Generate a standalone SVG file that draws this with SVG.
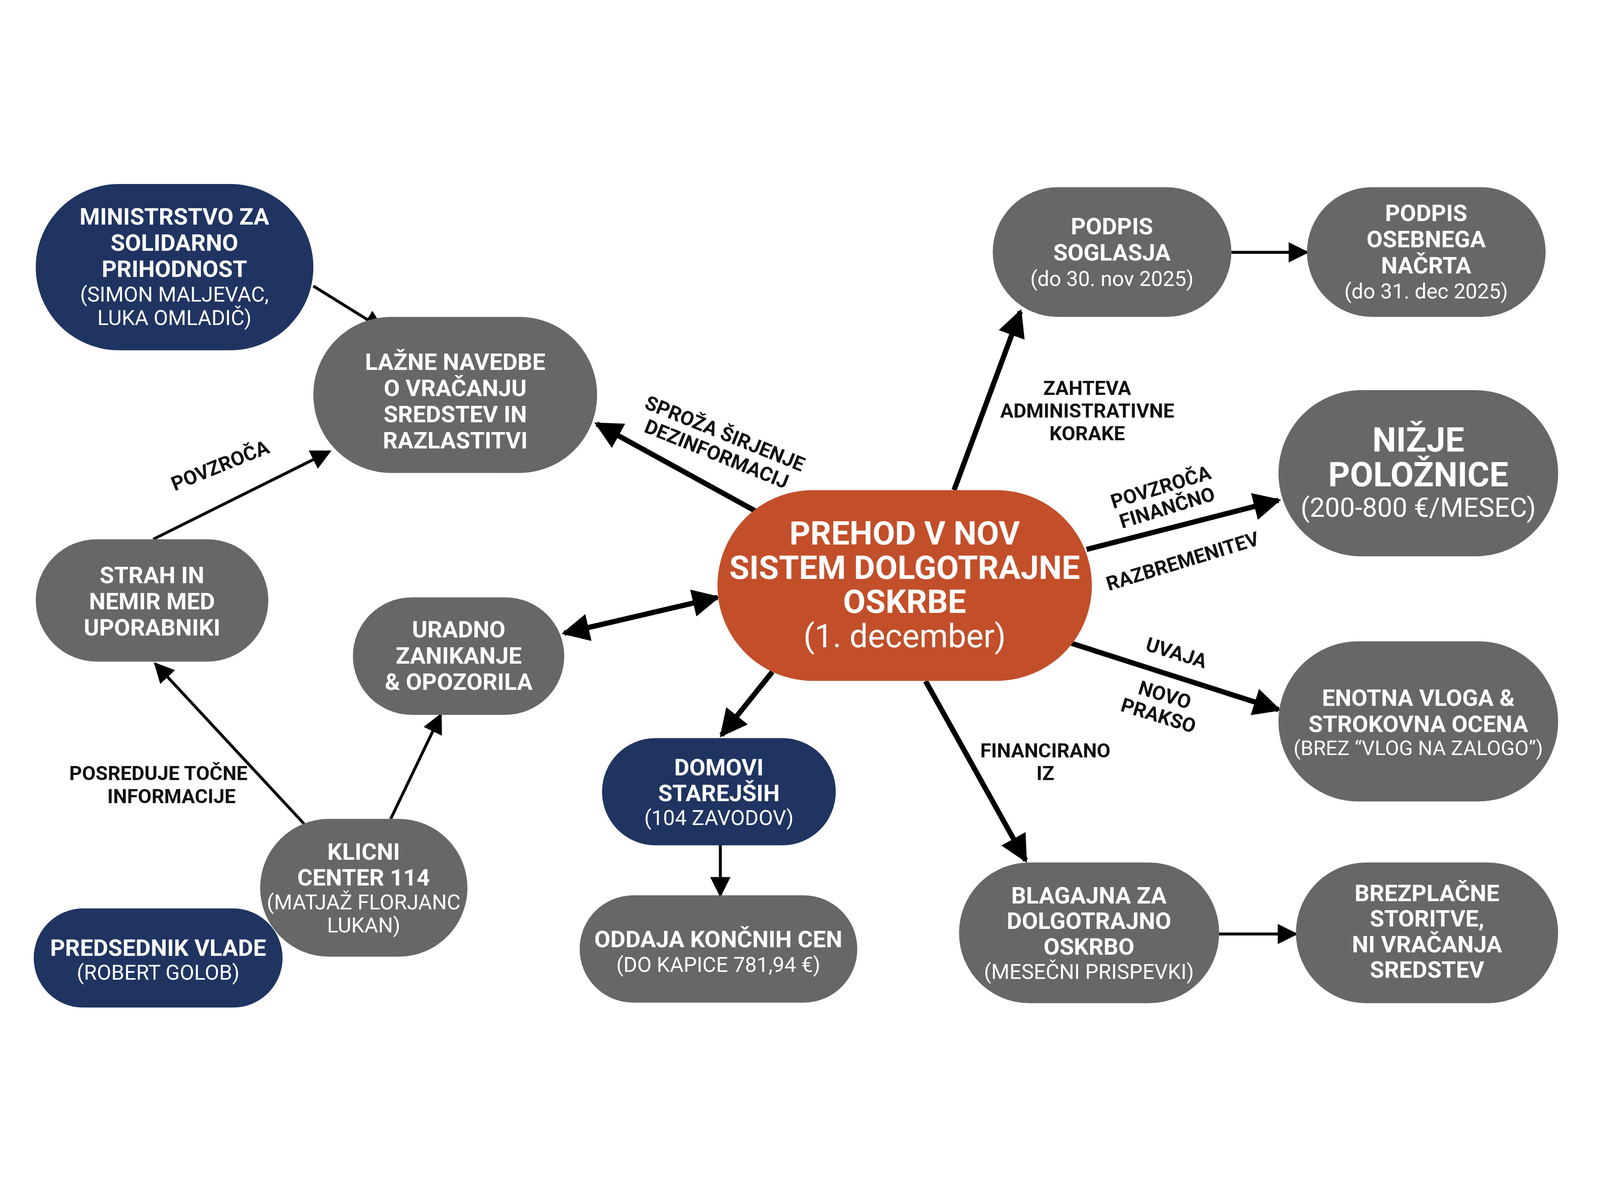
<svg xmlns="http://www.w3.org/2000/svg" width="5504" height="3072" viewBox="0 0 5504 3072" style="max-width:100vw;max-height:100vh">
<defs>
<style>
.g{fill:#676767}.n{fill:#1f3461}.o{fill:#c24f2a}
.t{font-family:Roboto,"Liberation Sans",sans-serif;font-weight:bold;fill:#fff;text-anchor:middle}
.s{font-family:Roboto,"Liberation Sans",sans-serif;fill:#fff;text-anchor:middle}
.l{font-family:Roboto,"Liberation Sans",sans-serif;font-weight:bold;fill:#111;font-size:68px;text-anchor:middle}
.e{stroke:#000;fill:none;stroke-width:10}
.k{stroke:#000;fill:none;stroke-width:18}
</style>
<marker id="a" viewBox="0 0 10 10" refX="9" refY="5" markerWidth="70" markerHeight="70" markerUnits="userSpaceOnUse" orient="auto"><path d="M0,0L10,5L0,10z" fill="#000"/></marker>
<marker id="b" viewBox="0 0 10 10" refX="9" refY="5" markerWidth="95" markerHeight="95" markerUnits="userSpaceOnUse" orient="auto-start-reverse"><path d="M0,0L10,5L0,10z" fill="#000"/></marker>
</defs>
<rect width="5504" height="3072" fill="#fff"/>
<g id="edges">
<line class="e" x1="1078" y1="456" x2="1316" y2="604" marker-end="url(#a)"/>
<line class="e" x1="527" y1="1327" x2="1134" y2="1025" marker-end="url(#a)"/>
<line class="k" x1="2597" y1="1229" x2="2053" y2="930" marker-end="url(#b)"/>
<line class="k" x1="1941" y1="1650" x2="2468" y2="1527" marker-start="url(#b)" marker-end="url(#b)"/>
<line class="e" x1="1046" y1="2306" x2="534" y2="1755" marker-end="url(#a)"/>
<line class="e" x1="1344" y1="2289" x2="1516" y2="1931" marker-end="url(#a)"/>
<line class="k" x1="2657" y1="1783" x2="2482" y2="2001" marker-end="url(#b)"/>
<line class="e" x1="2478" y1="2380" x2="2478" y2="2552" marker-end="url(#a)"/>
<line class="k" x1="3282" y1="1158" x2="3510" y2="544" marker-end="url(#b)"/>
<line class="e" x1="4236" y1="340" x2="4496" y2="340" marker-end="url(#a)"/>
<line class="k" x1="3738" y1="1362" x2="4398" y2="1193" marker-end="url(#b)"/>
<line class="k" x1="3686" y1="1685" x2="4398" y2="1913" marker-end="url(#b)"/>
<line class="k" x1="3184" y1="1815" x2="3528" y2="2432" marker-end="url(#b)"/>
<line class="e" x1="4194" y1="2685" x2="4458" y2="2685" marker-end="url(#a)"/>
<text class="l" transform="translate(766,1095) rotate(-22)">POVZROČA</text>
<text class="l" transform="translate(2485,985) rotate(22)">SPROŽA ŠIRJENJE<tspan x="0" dy="76">DEZINFORMACIJ</tspan></text>
<text class="l" x="545" y="2155">POSREDUJE TOČNE</text>
<text class="l" x="590" y="2235">INFORMACIJE</text>
<text class="l" x="3740" y="830">ZAHTEVA</text>
<text class="l" x="3740" y="908">ADMINISTRATIVNE</text>
<text class="l" x="3740" y="986">KORAKE</text>
<text class="l" transform="translate(4000,1170) rotate(-17)">POVZROČA<tspan x="0" dy="74">FINANČNO</tspan></text>
<text class="l" transform="translate(4075,1425) rotate(-17)">RAZBREMENITEV</text>
<text class="l" transform="translate(4040,1740) rotate(17)">UVAJA</text>
<text class="l" transform="translate(4000,1885) rotate(17)">NOVO<tspan x="0" dy="74">PRAKSO</tspan></text>
<text class="l" x="3596" y="2078">FINANCIRANO</text>
<text class="l" x="3596" y="2156">IZ</text>
</g>
<g id="ministrstvo"><rect class="n" x="123" y="105" width="955" height="572" rx="286"/>
<text class="t" font-size="80" x="600" y="245">MINISTRSTVO ZA</text><text class="t" font-size="80" x="600" y="335">SOLIDARNO</text><text class="t" font-size="80" x="600" y="425">PRIHODNOST</text>
<text class="s" font-size="72" x="600" y="510">(SIMON MALJEVAC,</text><text class="s" font-size="72" x="600" y="590">LUKA OMLADIČ)</text></g>
<g id="lazne"><rect class="g" x="1078" y="562" width="976" height="537" rx="268"/>
<text class="t" font-size="80" x="1566" y="745">LAŽNE NAVEDBE</text><text class="t" font-size="80" x="1566" y="835">O VRAČANJU</text><text class="t" font-size="80" x="1566" y="925">SREDSTEV IN</text><text class="t" font-size="80" x="1566" y="1015">RAZLASTITVI</text></g>
<g id="strah"><rect class="g" x="123" y="1327" width="800" height="421" rx="210"/>
<text class="t" font-size="80" x="523" y="1478">STRAH IN</text><text class="t" font-size="80" x="523" y="1568">NEMIR MED</text><text class="t" font-size="80" x="523" y="1658">UPORABNIKI</text></g>
<g id="uradno"><rect class="g" x="1214" y="1527" width="727" height="404" rx="202"/>
<text class="t" font-size="80" x="1578" y="1665">URADNO</text><text class="t" font-size="80" x="1578" y="1755">ZANIKANJE</text><text class="t" font-size="80" x="1578" y="1845">&amp; OPOZORILA</text></g>
<g id="klicni"><rect class="g" x="895" y="2289" width="713" height="474" rx="237"/>
<text class="t" font-size="80" x="1251" y="2430">KLICNI</text><text class="t" font-size="80" x="1251" y="2518">CENTER 114</text>
<text class="s" font-size="72" x="1251" y="2600">(MATJAŽ FLORJANC</text><text class="s" font-size="72" x="1251" y="2680">LUKAN)</text></g>
<g id="predsednik"><rect class="n" x="116" y="2597" width="856" height="341" rx="170"/>
<text class="t" font-size="80" x="544" y="2760">PREDSEDNIK VLADE</text><text class="s" font-size="72" x="544" y="2842">(ROBERT GOLOB)</text></g>
<g id="domovi"><rect class="n" x="2071" y="2011" width="804" height="369" rx="184"/>
<text class="t" font-size="80" x="2473" y="2140">DOMOVI</text><text class="t" font-size="80" x="2473" y="2228">STAREJŠIH</text><text class="s" font-size="72" x="2473" y="2310">(104 ZAVODOV)</text></g>
<g id="oddaja"><rect class="g" x="1994" y="2552" width="955" height="369" rx="184"/>
<text class="t" font-size="80" x="2471" y="2730">ODDAJA KONČNIH CEN</text><text class="s" font-size="72" x="2471" y="2815">(DO KAPICE 781,94 €)</text></g>
<g id="prehod"><rect class="o" x="2468" y="1158" width="1288" height="656" rx="328"/>
<text class="t" font-size="112" x="3112" y="1345">PREHOD V NOV</text><text class="t" font-size="112" x="3112" y="1463">SISTEM DOLGOTRAJNE</text><text class="t" font-size="112" x="3112" y="1581">OSKRBE</text><text class="s" font-size="112" x="3112" y="1699">(1. december)</text></g>
<g id="soglasje"><rect class="g" x="3415" y="116" width="821" height="446" rx="223"/>
<text class="t" font-size="80" x="3825" y="278">PODPIS</text><text class="t" font-size="80" x="3825" y="368">SOGLASJA</text><text class="s" font-size="72" x="3825" y="455">(do 30. nov 2025)</text></g>
<g id="osebni"><rect class="g" x="4496" y="116" width="821" height="446" rx="223"/>
<text class="t" font-size="80" x="4906" y="232">PODPIS</text><text class="t" font-size="80" x="4906" y="322">OSEBNEGA</text><text class="t" font-size="80" x="4906" y="412">NAČRTA</text><text class="s" font-size="72" x="4906" y="498">(do 31. dec 2025)</text></g>
<g id="nizje"><rect class="g" x="4398" y="814" width="962" height="572" rx="286"/>
<text class="t" font-size="116" x="4879" y="1025">NIŽJE</text><text class="t" font-size="116" x="4879" y="1145">POLOŽNICE</text><text class="s" font-size="92" x="4879" y="1250">(200-800 €/MESEC)</text></g>
<g id="enotna"><rect class="g" x="4398" y="1678" width="962" height="551" rx="275"/>
<text class="t" font-size="80" x="4879" y="1900">ENOTNA VLOGA &amp;</text><text class="t" font-size="80" x="4879" y="1990">STROKOVNA OCENA</text><text class="s" font-size="70" x="4879" y="2070">(BREZ “VLOG NA ZALOGO”)</text></g>
<g id="blagajna"><rect class="g" x="3299" y="2439" width="895" height="484" rx="242"/>
<text class="t" font-size="80" x="3746" y="2580">BLAGAJNA ZA</text><text class="t" font-size="80" x="3746" y="2668">DOLGOTRAJNO</text><text class="t" font-size="80" x="3746" y="2756">OSKRBO</text><text class="s" font-size="72" x="3746" y="2840">(MESEČNI PRISPEVKI)</text></g>
<g id="brezplacne"><rect class="g" x="4458" y="2439" width="902" height="484" rx="242"/>
<text class="t" font-size="80" x="4909" y="2572">BREZPLAČNE</text><text class="t" font-size="80" x="4909" y="2660">STORITVE,</text><text class="t" font-size="80" x="4909" y="2748">NI VRAČANJA</text><text class="t" font-size="80" x="4909" y="2836">SREDSTEV</text></g>
</svg>
